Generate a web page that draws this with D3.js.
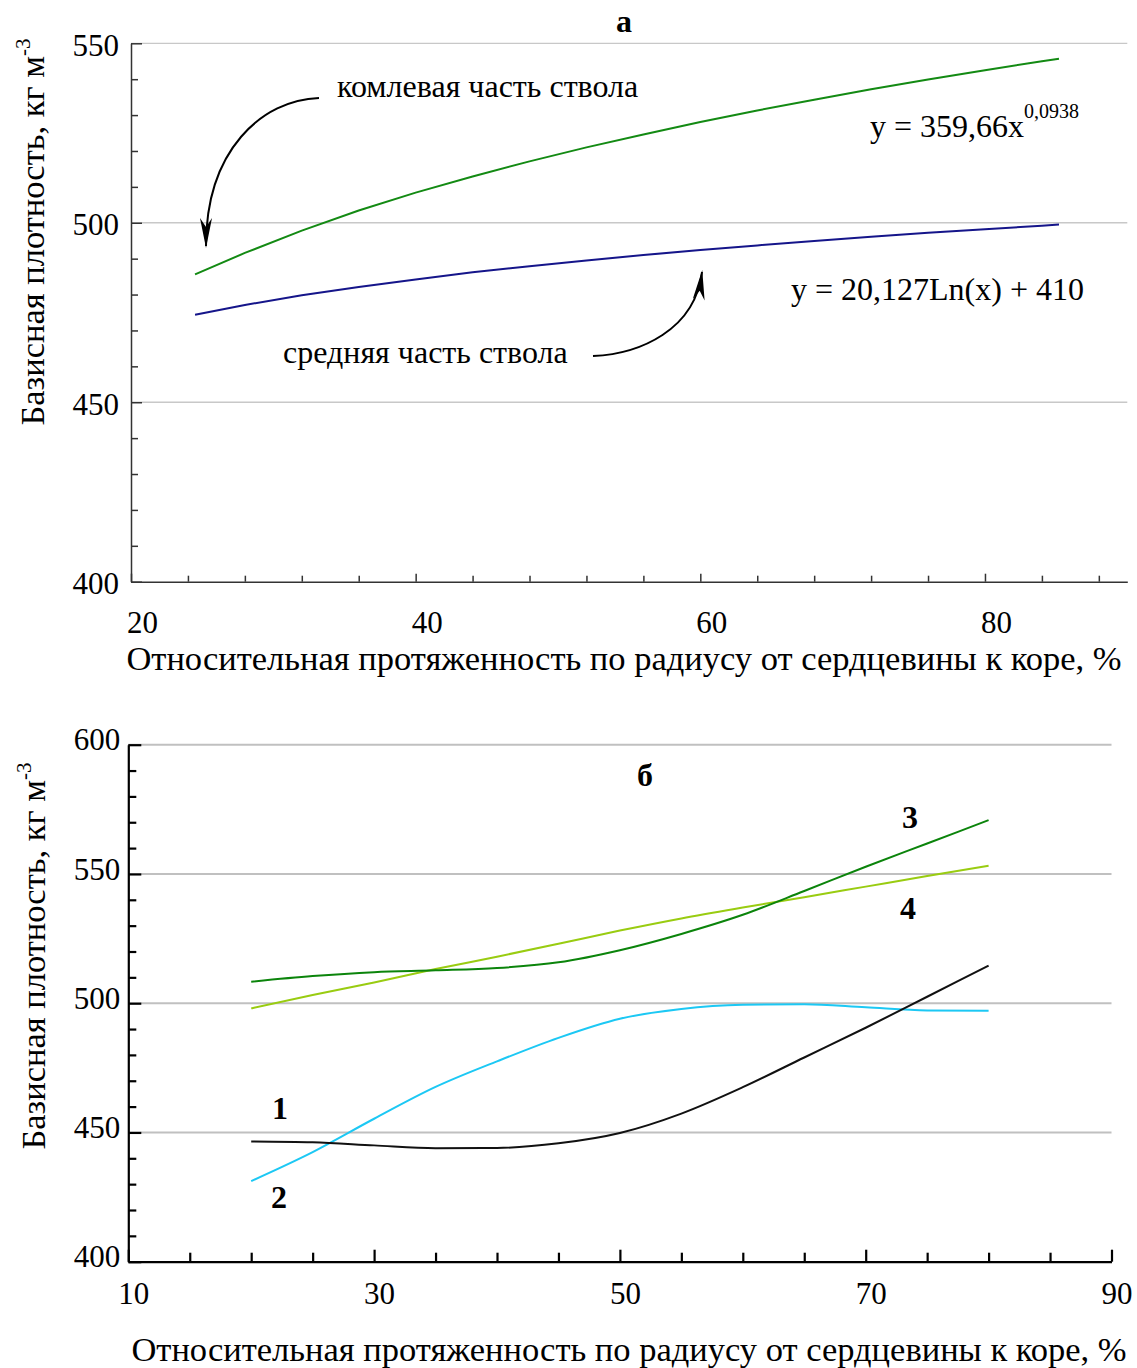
<!DOCTYPE html>
<html>
<head>
<meta charset="utf-8">
<script src="https://cdn.jsdelivr.net/npm/d3@7"></script>
<style>
  body { margin: 0; background: #fff; }
  text { font-family: "Liberation Serif", "Times New Roman", serif; fill: #000; }
</style>
</head>
<body>
<div id="chart"></div>
<script>
// ---------- panel "а" data ----------
var xA     = [24.5, 28, 32, 36, 40, 44, 48, 52, 56, 60, 64, 68, 72, 76, 80, 84, 85.2];
var komlA  = [485.6, 491.6, 497.8, 503.4, 508.4, 512.9, 517.1, 521.0, 524.6, 528.1, 531.3, 534.3, 537.2, 539.9, 542.5, 545.0, 545.7];
var sredA  = [474.4, 477.1, 479.8, 482.1, 484.2, 486.2, 487.9, 489.5, 491.0, 492.4, 493.7, 494.9, 496.1, 497.2, 498.2, 499.2, 499.5];
var xTicksA = [20, 40, 60, 80];
var yTicksA = [400, 450, 500, 550];

// ---------- panel "б" data ----------
var xB  = [20, 25, 30, 35, 40, 45, 50, 55, 60, 65, 70, 75, 80];
var s1  = [446.5, 446.2, 445.0, 443.9, 444.0, 445.8, 449.8, 457.3, 467.5, 479.0, 490.5, 502.5, 514.5];
var s2  = [431.2, 442.4, 455.3, 467.6, 477.5, 486.6, 494.0, 497.8, 499.4, 499.6, 498.4, 497.2, 497.1];
var s3  = [508.3, 510.5, 512.0, 512.7, 513.6, 515.8, 520.5, 526.8, 534.2, 543.4, 552.8, 561.8, 570.8];
var s4  = [498.0, 503.2, 508.0, 513.2, 518.0, 523.0, 528.1, 532.8, 537.0, 541.0, 545.1, 549.2, 553.2];
var xTicksB = [10, 30, 50, 70, 90];
var yTicksB = [400, 450, 500, 550, 600];

var W = 1137, H = 1368;

var svg = d3.select("#chart").append("svg")
    .attr("width", W)
    .attr("height", H);

// arrow head used by both callouts
svg.append("defs").append("marker")
    .attr("id", "head")
    .attr("markerUnits", "userSpaceOnUse")
    .attr("viewBox", "0 0 30 12")
    .attr("refX", 28).attr("refY", 6)
    .attr("markerWidth", 30).attr("markerHeight", 12)
    .attr("orient", "auto")
    .append("path")
    .attr("d", "M0,0 L30,6 L0,12 L9,6 Z")
    .attr("fill", "#000");

function zip(xs, ys) {
    return xs.map(function (d, i) { return [d, ys[i]]; });
}

function yTitle(cx, cy) {
    var t = svg.append("text")
        .attr("transform", "translate(" + cx + "," + cy + ") rotate(-90)")
        .attr("text-anchor", "middle")
        .style("font-size", "34.5px");
    t.append("tspan").text("Базисная плотность, кг м");
    t.append("tspan").attr("dy", -14).style("font-size", "21px").text("-3");
}

/////////////////////////////////////////////////
// PANEL а
/////////////////////////////////////////////////

var xa = d3.scaleLinear().domain([20, 90]).range([131, 1127.3]);
var ya = d3.scaleLinear().domain([400, 550]).range([581.7, 43.3]);

// gridlines
svg.append("g").selectAll("line")
    .data([450, 500, 550])
    .enter().append("line")
    .attr("x1", xa(20)).attr("x2", xa(90))
    .attr("y1", function (d) { return ya(d); })
    .attr("y2", function (d) { return ya(d); })
    .attr("stroke", "#c8c8c8")
    .attr("stroke-width", 1.3);

// y axis
var gyA = svg.append("g")
    .attr("transform", "translate(" + xa(20) + ",0)")
    .call(d3.axisLeft(ya).tickValues(yTicksA).tickSize(-11).tickSizeOuter(0).tickPadding(12));
gyA.selectAll("text").attr("dy", "0.38em").style("font-size", "31px");

svg.append("g")
    .attr("transform", "translate(" + xa(20) + ",0)")
    .call(d3.axisLeft(ya).tickValues(d3.range(410, 550, 10).filter(function (d) { return d % 50; }))
        .tickSize(-7).tickFormat(""))
    .select(".domain").remove();

// x axis
var gxA = svg.append("g")
    .attr("transform", "translate(0," + ya(400) + ")")
    .call(d3.axisBottom(xa).tickValues(xTicksA).tickSize(-8).tickSizeOuter(0));
gxA.selectAll("text").attr("y", 51).attr("dy", 0).attr("dx", 11).style("font-size", "31px");

svg.append("g")
    .attr("transform", "translate(0," + ya(400) + ")")
    .call(d3.axisBottom(xa).tickValues(d3.range(24, 90, 4).filter(function (d) { return d % 20; }))
        .tickSize(-6).tickFormat(""))
    .select(".domain").remove();

svg.selectAll("g.tick line, path.domain").attr("stroke", "#333").attr("stroke-width", 1.5);
svg.selectAll("g text").attr("font-family", null);

// series
var lineA = d3.line()
    .x(function (d) { return xa(d[0]); })
    .y(function (d) { return ya(d[1]); });

svg.append("path").datum(zip(xA, komlA))
    .attr("d", lineA).attr("fill", "none")
    .attr("stroke", "#138a13").attr("stroke-width", 2);

svg.append("path").datum(zip(xA, sredA))
    .attr("d", lineA).attr("fill", "none")
    .attr("stroke", "#15158a").attr("stroke-width", 2);

// labels
svg.append("text").attr("x", 624).attr("y", 32)
    .attr("text-anchor", "middle").style("font-size", "32px").style("font-weight", "bold")
    .text("а");

svg.append("text").attr("x", 337).attr("y", 97)
    .style("font-size", "32px").text("комлевая часть ствола");

svg.append("text").attr("x", 283).attr("y", 363)
    .style("font-size", "32px").text("средняя часть ствола");

var eq1 = svg.append("text").attr("x", 870).attr("y", 137).style("font-size", "32px");
eq1.append("tspan").text("y = 359,66x");
eq1.append("tspan").attr("dy", -19).style("font-size", "20px").text("0,0938");

svg.append("text").attr("x", 791).attr("y", 300)
    .style("font-size", "32px").text("y = 20,127Ln(x) + 410");

// callout arrows
svg.append("path")
    .attr("d", "M319,98 C262,100 206,150 206,246")
    .attr("fill", "none").attr("stroke", "#000").attr("stroke-width", 2)
    .attr("marker-end", "url(#head)");

svg.append("path")
    .attr("d", "M593,356 C640,354 695,330 702,272")
    .attr("fill", "none").attr("stroke", "#000").attr("stroke-width", 2)
    .attr("marker-end", "url(#head)");

yTitle(44, 232);

svg.append("text").attr("x", 624).attr("y", 670)
    .attr("text-anchor", "middle").style("font-size", "34.5px")
    .text("Относительная протяженность по радиусу от сердцевины к коре, %");

/////////////////////////////////////////////////
// PANEL б
/////////////////////////////////////////////////

var xb = d3.scaleLinear().domain([10, 90]).range([128.3, 1111.5]);
var yb = d3.scaleLinear().domain([400, 600]).range([1261.7, 744.7]);

var panelB = svg.append("g");

panelB.append("g").selectAll("line")
    .data([450, 500, 550, 600])
    .enter().append("line")
    .attr("x1", xb(10)).attr("x2", xb(90))
    .attr("y1", function (d) { return yb(d); })
    .attr("y2", function (d) { return yb(d); })
    .attr("stroke", "#c0c0c0")
    .attr("stroke-width", 2);

var gyB = panelB.append("g")
    .attr("transform", "translate(" + xb(10) + ",0)")
    .call(d3.axisLeft(yb).tickValues(yTicksB).tickSize(-13).tickSizeOuter(0).tickPadding(8));
gyB.selectAll("text").attr("dy", "0.17em").style("font-size", "31px");

panelB.append("g")
    .attr("transform", "translate(" + xb(10) + ",0)")
    .call(d3.axisLeft(yb).tickValues(d3.range(410, 600, 10).filter(function (d) { return d % 50; }))
        .tickSize(-8).tickFormat(""))
    .select(".domain").remove();

var gxB = panelB.append("g")
    .attr("transform", "translate(0," + yb(400) + ")")
    .call(d3.axisBottom(xb).tickValues(xTicksB).tickSize(-12).tickSizeOuter(0));
gxB.selectAll("text").attr("y", 42).attr("dy", 0).attr("dx", 5).style("font-size", "31px");

panelB.append("g")
    .attr("transform", "translate(0," + yb(400) + ")")
    .call(d3.axisBottom(xb).tickValues(d3.range(15, 90, 5).filter(function (d) { return (d - 10) % 20; }))
        .tickSize(-9).tickFormat(""))
    .select(".domain").remove();

panelB.selectAll("g.tick line, path.domain").attr("stroke", "#000").attr("stroke-width", 2.2);
panelB.selectAll("g text").attr("font-family", null);

var lineB = d3.line()
    .curve(d3.curveMonotoneX)
    .x(function (d) { return xb(d[0]); })
    .y(function (d) { return yb(d[1]); });

var seriesB = [
    { v: s4, c: "#99cc11" },
    { v: s3, c: "#0b840b" },
    { v: s2, c: "#1cc8f4" },
    { v: s1, c: "#111111" }
];

panelB.selectAll("path.series")
    .data(seriesB)
    .enter().append("path")
    .attr("class", "series")
    .attr("d", function (d) { return lineB(zip(xB, d.v)); })
    .attr("fill", "none")
    .attr("stroke", function (d) { return d.c; })
    .attr("stroke-width", 2);

// numbered labels
[["1", 280, 1119], ["2", 279, 1208], ["3", 910, 828], ["4", 908, 919], ["б", 645, 786]].forEach(function (l) {
    panelB.append("text").attr("x", l[1]).attr("y", l[2])
        .attr("text-anchor", "middle").style("font-size", "32px").style("font-weight", "bold")
        .text(l[0]);
});

yTitle(45, 956);

svg.append("text").attr("x", 629).attr("y", 1361)
    .attr("text-anchor", "middle").style("font-size", "34.5px")
    .text("Относительная протяженность по радиусу от сердцевины к коре, %");
</script>
</body>
</html>
